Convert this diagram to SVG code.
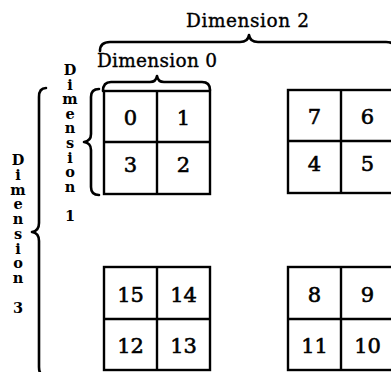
<svg xmlns="http://www.w3.org/2000/svg" width="391" height="372" viewBox="0 0 391 372">
  <style>
    .cell { fill: #fff; stroke: #000; stroke-width: 2.4; }
    .div { stroke: #000; stroke-width: 2.4; }
    .num { font-family: "DejaVu Serif", "Liberation Serif", serif; font-size: 21px; text-anchor: middle; fill: #000; stroke: #000; stroke-width: 0.6; }
    .lbl { font-family: "DejaVu Serif", "Liberation Serif", serif; font-size: 18.5px; fill: #000; stroke: #000; stroke-width: 0.35; }
    .vlbl { font-family: "DejaVu Serif", "Liberation Serif", serif; font-size: 14.5px; font-weight: bold; text-anchor: middle; fill: #000; }
    .brace { fill: none; stroke: #000; stroke-width: 2.6; stroke-linecap: round; stroke-linejoin: round; }
  </style>
  <rect width="391" height="372" fill="#fff"/>

  <!-- braces marking each dimension -->
  <g id="connectors">
    <path class="brace" d="M100,51 Q100,42 110,42 L240,42 Q248,42 249,35 Q250,42 258,42 L386,42 Q396,42 396,51"/>
    <path class="brace" d="M103,91 Q103,82 111,82 L150,82 Q156,82 157,76 Q158,82 164,82 L202,82 Q210,82 210,90"/>
    <path class="brace" d="M99,89 Q91,89 91,97 L91,134 Q91,141 84,142 Q91,143 91,150 L91,187 Q91,195 99,195"/>
    <path class="brace" d="M46,88 Q39,88 39,97 L39,223 Q39,231 32,232 Q39,233 39,241 L39,367 Q39,376 46,376"/>
  </g>

  <!-- dimension labels -->
  <g id="label-dim2"><text class="lbl" x="186" y="27" textLength="123" lengthAdjust="spacing">Dimension 2</text></g>
  <g id="label-dim0"><text class="lbl" x="97" y="67" textLength="120" lengthAdjust="spacing">Dimension 0</text></g>
  <g id="label-dim1"><text class="vlbl" x="70 70 70 70 70 70 70 70 70 70 70" y="75 89.6 104.2 118.8 133.4 148 162.6 177.2 191.8 206.4 221">Dimension 1</text></g>
  <g id="label-dim3"><text class="vlbl" x="18 18 18 18 18 18 18 18 18 18 18" y="165 179.75 194.5 209.25 224 238.75 253.5 268.25 283 297.75 312.5">Dimension 3</text></g>

  <!-- 2x2 blocks of numbered cells -->
  <g id="block-0123">
    <rect class="cell" x="104" y="91" width="106" height="103"/>
    <line class="div" x1="157" y1="91" x2="157" y2="194"/>
    <line class="div" x1="104" y1="142" x2="210" y2="142"/>
    <text class="num" x="130.5" y="124.5">0</text>
    <text class="num" x="183.5" y="124.5">1</text>
    <text class="num" x="130.5" y="171.5">3</text>
    <text class="num" x="183.5" y="171.5">2</text>
  </g>
  <g id="block-4567">
    <rect class="cell" x="288" y="90" width="106" height="103"/>
    <line class="div" x1="341" y1="90" x2="341" y2="193"/>
    <line class="div" x1="288" y1="141" x2="394" y2="141"/>
    <text class="num" x="314.5" y="123.5">7</text>
    <text class="num" x="367.5" y="123.5">6</text>
    <text class="num" x="314.5" y="170.5">4</text>
    <text class="num" x="367.5" y="170.5">5</text>
  </g>
  <g id="block-12131415">
    <rect class="cell" x="104" y="267" width="106" height="103"/>
    <line class="div" x1="157" y1="267" x2="157" y2="370"/>
    <line class="div" x1="104" y1="319" x2="210" y2="319"/>
    <text class="num" x="130.5" y="302">15</text>
    <text class="num" x="183.5" y="302">14</text>
    <text class="num" x="130.5" y="353">12</text>
    <text class="num" x="183.5" y="353">13</text>
  </g>
  <g id="block-891011">
    <rect class="cell" x="288" y="267" width="106" height="103"/>
    <line class="div" x1="341" y1="267" x2="341" y2="370"/>
    <line class="div" x1="288" y1="319" x2="394" y2="319"/>
    <text class="num" x="314.5" y="302">8</text>
    <text class="num" x="367.5" y="302">9</text>
    <text class="num" x="314.5" y="353">11</text>
    <text class="num" x="367.5" y="353">10</text>
  </g>
</svg>
